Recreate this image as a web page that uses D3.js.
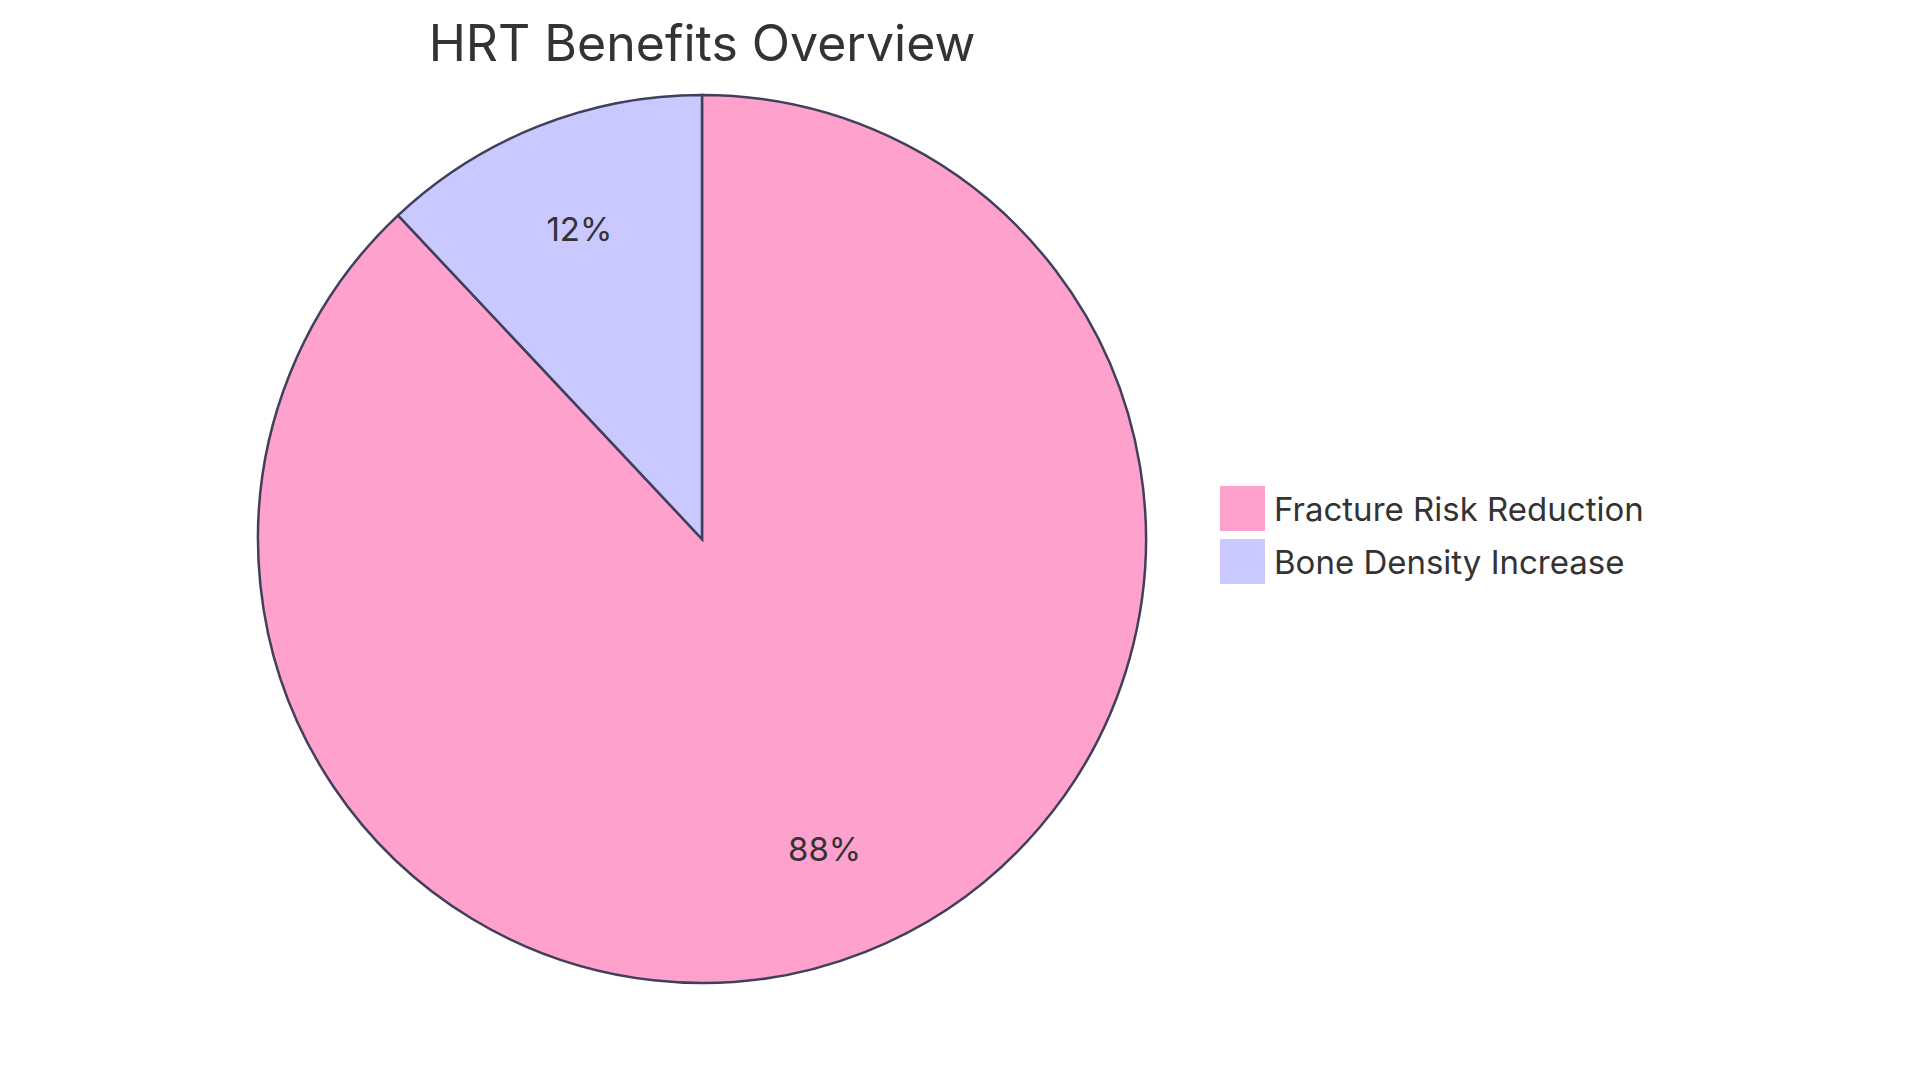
<!DOCTYPE html>
<html><head><meta charset="utf-8">
<script src="https://cdn.jsdelivr.net/npm/d3@7"></script>
<style>body{margin:0;background:#fff}text{font-family:Inter,"Open Sans",sans-serif;fill:#333}</style>
</head><body><svg id="c" width="1920" height="1083"></svg>
<script>
// Chart data
const labels = ['Fracture Risk Reduction', 'Bone Density Increase'];
const values = [88, 12];
const colors = ['#FFA1CD', '#C9C9FF'];

const svg = d3.select('#c');
const cx = 702, cy = 539, r = 444;

svg.append('text').attr('x', cx).attr('y', 43).attr('text-anchor', 'middle')
    .attr('dominant-baseline', 'central').style('font-size', '50px').text('HRT Benefits Overview');

const pie = d3.pie().sort(null).value(d => d.v);
const slices = pie(labels.map((l, i) => ({ l, v: values[i], c: colors[i] })));
const arc = d3.arc().innerRadius(0).outerRadius(r);
const labelArc = d3.arc().innerRadius(r * 0.75).outerRadius(r * 0.75);

const g = svg.append('g').attr('transform', `translate(${cx},${cy})`);
g.selectAll('path').data(slices).enter().append('path')
    .attr('d', arc).attr('fill', d => d.data.c)
    .attr('stroke', '#40405C').attr('stroke-width', 2.5);
g.selectAll('text').data(slices).enter().append('text')
    .attr('transform', d => `translate(${labelArc.centroid(d)})`)
    .attr('text-anchor', 'middle').attr('dominant-baseline', 'central')
    .style('font-size', '33px')
    .text(d => Math.round(d.data.v / d3.sum(values) * 100) + '%');

const lg = svg.append('g').attr('transform', 'translate(1220,486)');
labels.forEach((l, i) => {
    const row = lg.append('g').attr('transform', `translate(0,${i * 53})`);
    row.append('rect').attr('width', 45).attr('height', 45).attr('fill', colors[i]);
    row.append('text').attr('x', 54).attr('y', 23).attr('dominant-baseline', 'central')
        .style('font-size', '33px').text(l);
});
</script></body></html>
